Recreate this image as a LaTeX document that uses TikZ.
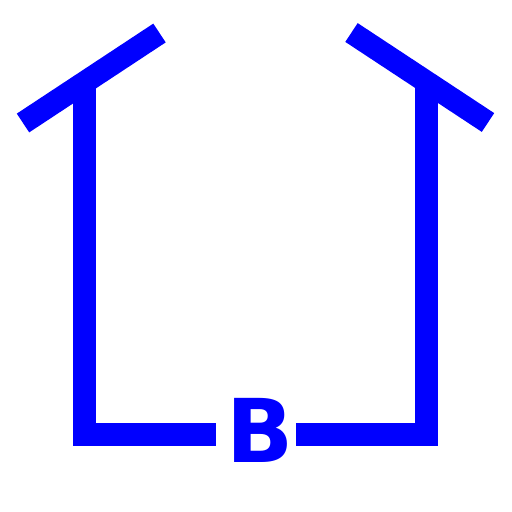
\documentclass[tikz,border=0pt]{standalone}
\usepackage{fontspec}
\setmainfont{DejaVu Sans}
\usepackage{tikz}
\usetikzlibrary{positioning, calc}
\usepackage{xcolor}
\definecolor{wireblue}{HTML}{0000FF}

\begin{document}
\begin{tikzpicture}[
    x=1pt, y=-1pt,
    wire/.style={draw=wireblue, line width=22.5pt, line cap=butt, line join=miter},
    label/.style={text=wireblue, font=\fontsize{88}{88}\selectfont\bfseries, inner sep=0pt},
]
\useasboundingbox (0,0) rectangle (512,512);

% left arm
\coordinate (lbarA) at (23,123);
\coordinate (lbarB) at (159.5,33);
\coordinate (ltop) at (84.5,82);
\coordinate (lbot) at (84.5,434.5);
\coordinate (lend) at (216,434.5);

% right arm
\coordinate (rbarA) at (351.5,32.5);
\coordinate (rbarB) at (488,122.5);
\coordinate (rtop) at (426.5,82);
\coordinate (rbot) at (426.5,434.5);
\coordinate (rend) at (296,434.5);

\node[label] (name) at (260,430) {B};

\draw[wire] (lbarA) -- (lbarB);
\draw[wire] (ltop) -- (lbot) -- (lend);
\draw[wire] (rbarA) -- (rbarB);
\draw[wire] (rtop) -- (rbot) -- (rend);

\end{tikzpicture}
\end{document}
